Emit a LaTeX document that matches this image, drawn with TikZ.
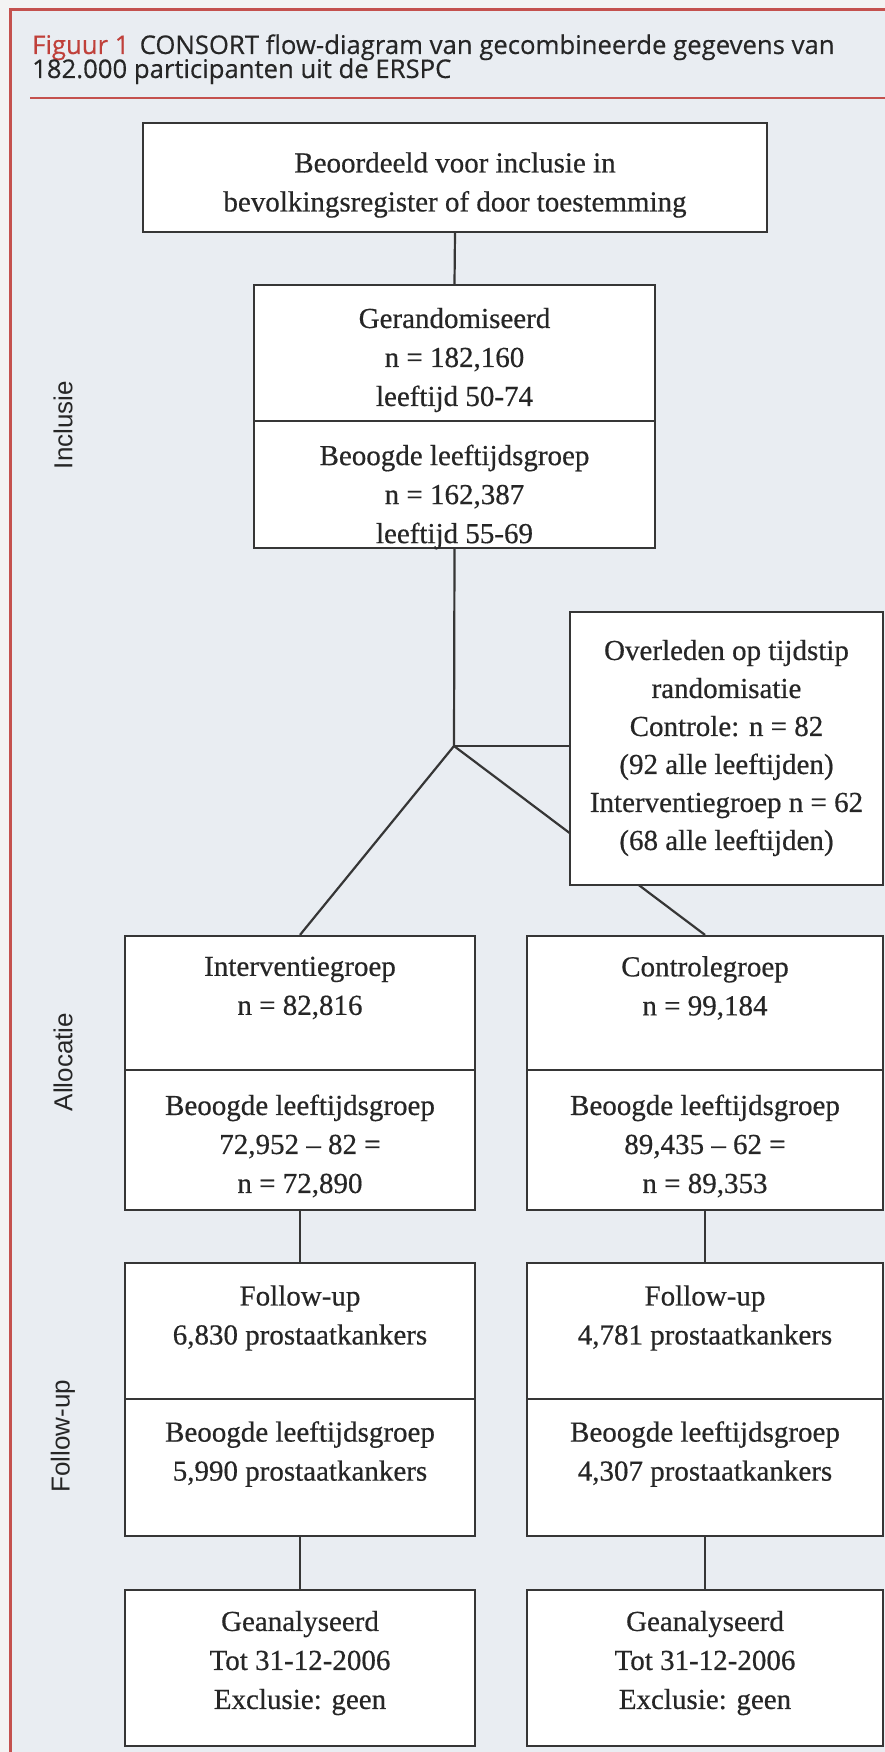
\documentclass[tikz,border=0pt]{standalone}
\usepackage{fontspec}
\setmainfont{Liberation Serif}
\newfontfamily\boxfont{Liberation Serif}[FakeBold=0.5,Ligatures=TeX]
\newfontfamily\titlefont{Open Sans}[FakeBold=0.4]
\newfontfamily\sidefont{Liberation Sans}
\usetikzlibrary{calc}
\definecolor{bgblue}{HTML}{E9EDF2}
\definecolor{outer}{HTML}{F3F3F3}
\definecolor{framered}{HTML}{C4514E}
\definecolor{titlered}{HTML}{C0403A}
\definecolor{ink}{HTML}{262626}
\definecolor{boxline}{HTML}{363636}
\tikzset{
  part/.style={draw=boxline, line width=2.2pt, fill=white, inner sep=0pt},
  txt/.style={text=ink, font=\boxfont\fontsize{29}{39}\selectfont, align=center, inner sep=0pt},
  conn/.style={draw=boxline, line width=2.2pt},
  side/.style={text=ink, font=\sidefont\fontsize{26}{30}\selectfont, rotate=90, inner sep=0pt},
  ttl/.style={anchor=base west, inner sep=0pt, text=ink, font=\titlefont\fontsize{25.7}{28}\selectfont}
}
\begin{document}
\begin{tikzpicture}[x=1pt,y=-1pt]
\useasboundingbox (0,0) rectangle (885,1752);
\fill[outer] (0,0) rectangle (885,1752);
\fill[bgblue] (10,10) rectangle (890,1760);
\draw[framered, line width=3pt] (10,1760) -- (10,10) -- (890,10);
% title
\node[ttl] (title1) at (32,54) {{\color{titlered}Figuur 1}\hspace{0.4em}CONSORT flow-diagram van gecombineerde gegevens van};
\node[ttl] (title2) at (32,78) {182.000 participanten uit de ERSPC};
\draw[framered, line width=2.5pt] (30,98) -- (885,98);
% side labels
\node[side] (lincl) at (63,425) {Inclusie};
\node[side] (lalloc) at (63,1062) {Allocatie};
\node[side] (lfollow) at (63,1436) {Follow-up};
% junction
\coordinate (J) at (454,746);
% boxes
\node[part, minimum width=624pt, minimum height=109pt] (top) at (455,177.5) {};
\node[part, minimum width=401pt, minimum height=136pt] (rA) at (454.5,353) {};
\node[part, minimum width=401pt, minimum height=127pt] (rB) at (454.5,484.5) {};
\node[part, minimum width=350pt, minimum height=134pt] (iA) at (300,1003) {};
\node[part, minimum width=350pt, minimum height=140pt] (iB) at (300,1140) {};
\node[part, minimum width=356pt, minimum height=134pt] (cA) at (705,1003) {};
\node[part, minimum width=356pt, minimum height=140pt] (cB) at (705,1140) {};
\node[part, minimum width=350pt, minimum height=136pt] (fiA) at (300,1331) {};
\node[part, minimum width=350pt, minimum height=137pt] (fiB) at (300,1467.5) {};
\node[part, minimum width=356pt, minimum height=136pt] (fcA) at (705,1331) {};
\node[part, minimum width=356pt, minimum height=137pt] (fcB) at (705,1467.5) {};
\node[part, minimum width=350pt, minimum height=156pt] (gi) at (300,1668) {};
\node[part, minimum width=356pt, minimum height=156pt] (gc) at (705,1668) {};
% connectors
\draw[conn] (top.south) -- (rA.north);
\draw[conn] (rB.south) -- (J);
\draw[conn] (J) -- (iA.north);
\draw[conn] (J) -- (cA.north);
\draw[conn] (iB.south) -- (fiA.north);
\draw[conn] (cB.south) -- (fcA.north);
\draw[conn] (fiB.south) -- (gi.north);
\draw[conn] (fcB.south) -- (gc.north);
% side box drawn over the diagonal
\node[part, minimum width=313pt, minimum height=273pt] (dead) at (726.5,748.5) {};
\draw[conn] (J) -- (dead.west |- J);
% texts
\node[txt] (ttop) at (455,185) {Beoordeeld voor inclusie in\\bevolkingsregister of door toestemming};
\node[txt] (trA) at (454.5,360) {Gerandomiseerd\\n = 182,160\\leeftijd 50-74};
\node[txt] (trB) at (454.5,497) {Beoogde leeftijdsgroep\\n = 162,387\\leeftijd 55-69};
\node[txt, font=\boxfont\fontsize{29}{38}\selectfont] (tdead) at (726.5,748) {Overleden op tijdstip\\randomisatie\\Controle: n = 82\\(92 alle leeftijden)\\Interventiegroep n = 62\\(68 alle leeftijden)};
\node[txt] (tiA) at (300,988) {Interventiegroep\\n = 82,816};
\node[txt] (tiB) at (300,1146) {Beoogde leeftijdsgroep\\72,952 – 82 =\\n = 72,890};
\node[txt] (tcA) at (705,988) {Controlegroep\\n = 99,184};
\node[txt] (tcB) at (705,1146) {Beoogde leeftijdsgroep\\89,435 – 62 =\\n = 89,353};
\node[txt] (tfiA) at (300,1318) {Follow-up\\6,830 prostaatkankers};
\node[txt] (tfiB) at (300,1454) {Beoogde leeftijdsgroep\\5,990 prostaatkankers};
\node[txt] (tfcA) at (705,1318) {Follow-up\\4,781 prostaatkankers};
\node[txt] (tfcB) at (705,1454) {Beoogde leeftijdsgroep\\4,307 prostaatkankers};
\node[txt] (tgi) at (300,1663) {Geanalyseerd\\Tot 31-12-2006\\Exclusie: geen};
\node[txt] (tgc) at (705,1663) {Geanalyseerd\\Tot 31-12-2006\\Exclusie: geen};
\end{tikzpicture}
\end{document}
